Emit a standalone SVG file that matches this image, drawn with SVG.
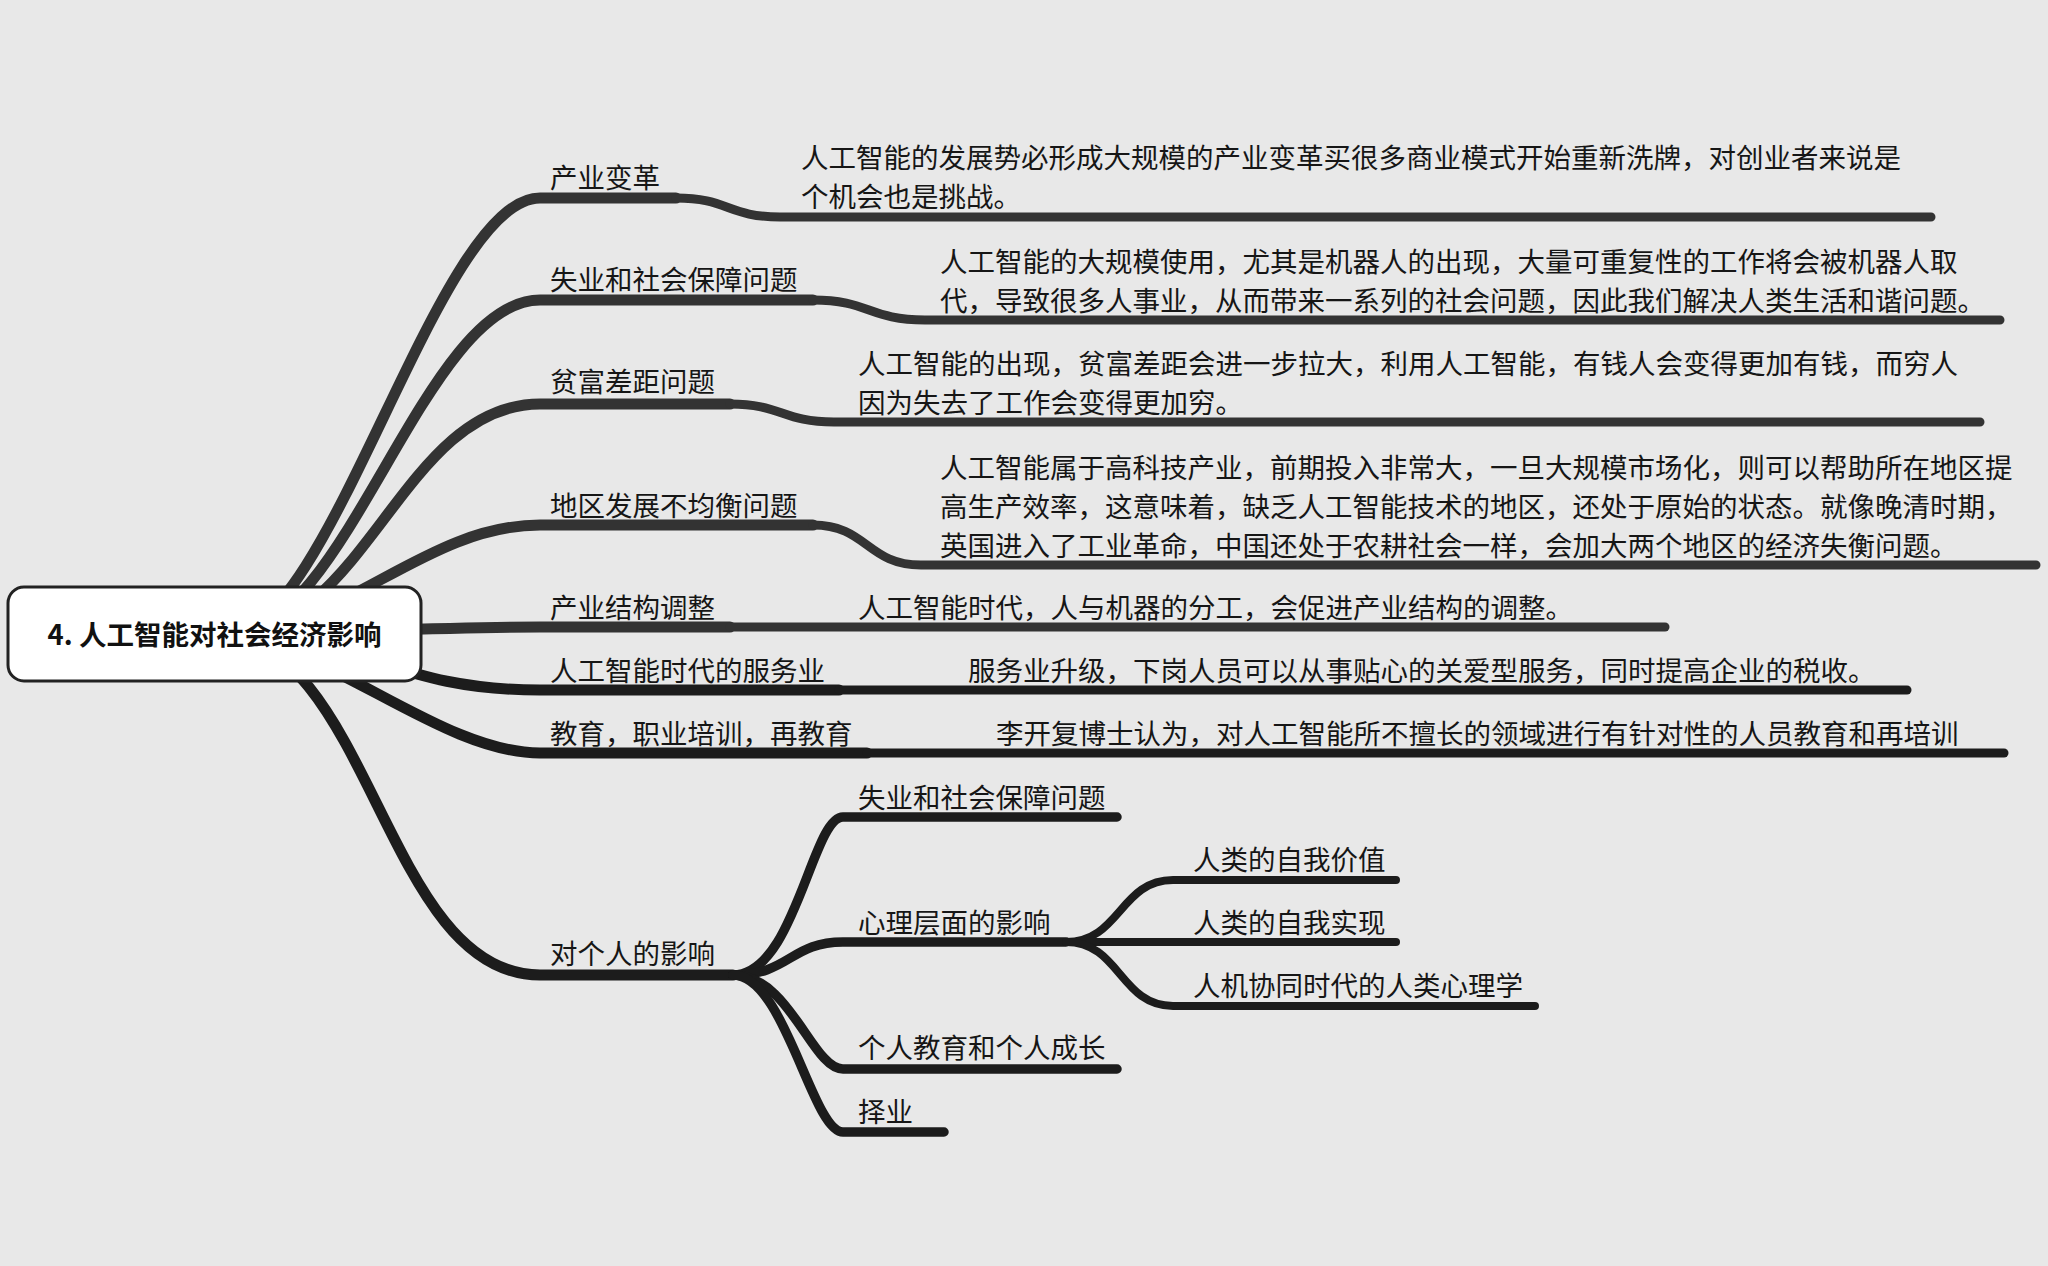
<svg xmlns="http://www.w3.org/2000/svg" width="2048" height="1266" viewBox="0 0 2048 1266">
<style>
.t{font-family:"Noto Sans CJK SC","Noto Sans",sans-serif;font-size:27.5px;fill:#161616}
.root{font-family:"Noto Sans CJK SC","Noto Sans",sans-serif;font-size:27.5px;font-weight:600;fill:#111}
.l1{fill:none;stroke:#333;stroke-width:11;stroke-linecap:round}
.d1{fill:none;stroke:#333;stroke-width:9;stroke-linecap:round}
.l1b{fill:none;stroke:#1c1c1c;stroke-width:11;stroke-linecap:round}
.d1b{fill:none;stroke:#1c1c1c;stroke-width:9;stroke-linecap:round}
.l2{fill:none;stroke:#1c1c1c;stroke-width:9.5;stroke-linecap:round}
.l3{fill:none;stroke:#1c1c1c;stroke-width:8;stroke-linecap:round}
</style>
<rect width="2048" height="1266" fill="#e8e8e8"/>
<g id="connectors">
<path class="l1" d="M228,634 C331,634 437,198 540,198 H676"/>
<path class="d1" d="M676,198 C728,198 728,217 780,217 H1931"/>
<path class="l1" d="M230,634 C346,634 424,300 540,300 H813"/>
<path class="d1" d="M813,300 C869,300 869,320 925,320 H2000"/>
<path class="l1" d="M228,634 C366,634 402,404 540,404 H730"/>
<path class="d1" d="M730,404 C782,404 782,422 834,422 H1980"/>
<path class="l1" d="M222,634 C339,634 423,525 540,525 H813"/>
<path class="d1" d="M813,525 C867,525 867,565 921,565 H2036"/>
<path class="l1" d="M214,634 C334,634 420,627 540,627 H730"/>
<path class="d1" d="M730,627 H1665"/>
<path class="l1b" d="M214,634 C364,634 390,690 540,690 H839"/>
<path class="d1b" d="M839,690 H1907"/>
<path class="l1b" d="M214,634 C317,634 437,753 540,753 H867"/>
<path class="d1b" d="M867,753 H2004"/>
<path class="l1b" d="M214,634 C371,634 383,975 540,975 H733"/>
<path class="l2" d="M733,975 C795,975 812,817 843,817 H1117"/>
<path class="l2" d="M733,975 C790,975 790,942 843,942 H1066"/>
<path class="l2" d="M733,975 C790,975 812,1069 843,1069 H1117"/>
<path class="l2" d="M733,975 C785,975 812,1132 843,1132 H944"/>
<path class="l3" d="M1066,942 C1120,942 1120,880 1173,880 H1396"/>
<path class="l3" d="M1066,942 H1396"/>
<path class="l3" d="M1066,942 C1120,942 1120,1006 1173,1006 H1535"/>
</g>
<g id="root">
<rect x="8" y="587" width="413" height="94" rx="16" fill="#fff" stroke="#222" stroke-width="3"/>
<text class="root" x="214.5" y="645" text-anchor="middle">4. 人工智能对社会经济影响</text>
</g>
<g id="n1">
<text class="t" x="550" y="188">产业变革</text>
<text class="t" x="801" y="168">人工智能的发展势必形成大规模的产业变革买很多商业模式开始重新洗牌，对创业者来说是</text>
<text class="t" x="801" y="207">个机会也是挑战。</text>
</g>
<g id="n2">
<text class="t" x="550" y="289.5">失业和社会保障问题</text>
<text class="t" x="940" y="272">人工智能的大规模使用，尤其是机器人的出现，大量可重复性的工作将会被机器人取</text>
<text class="t" x="940" y="311">代，导致很多人事业，从而带来一系列的社会问题，因此我们解决人类生活和谐问题。</text>
</g>
<g id="n3">
<text class="t" x="550" y="392">贫富差距问题</text>
<text class="t" x="858" y="374">人工智能的出现，贫富差距会进一步拉大，利用人工智能，有钱人会变得更加有钱，而穷人</text>
<text class="t" x="858" y="412.5">因为失去了工作会变得更加穷。</text>
</g>
<g id="n4">
<text class="t" x="550" y="515.5">地区发展不均衡问题</text>
<text class="t" x="940" y="478">人工智能属于高科技产业，前期投入非常大，一旦大规模市场化，则可以帮助所在地区提</text>
<text class="t" x="940" y="517">高生产效率，这意味着，缺乏人工智能技术的地区，还处于原始的状态。就像晚清时期，</text>
<text class="t" x="940" y="556">英国进入了工业革命，中国还处于农耕社会一样，会加大两个地区的经济失衡问题。</text>
</g>
<g id="n5">
<text class="t" x="550" y="618">产业结构调整</text>
<text class="t" x="858" y="618">人工智能时代，人与机器的分工，会促进产业结构的调整。</text>
</g>
<g id="n6">
<text class="t" x="550" y="681">人工智能时代的服务业</text>
<text class="t" x="968" y="681">服务业升级，下岗人员可以从事贴心的关爱型服务，同时提高企业的税收。</text>
</g>
<g id="n7">
<text class="t" x="550" y="744">教育，职业培训，再教育</text>
<text class="t" x="996" y="744">李开复博士认为，对人工智能所不擅长的领域进行有针对性的人员教育和再培训</text>
</g>
<g id="n8">
<text class="t" x="550" y="964">对个人的影响</text>
</g>
<g id="n8a"><text class="t" x="858" y="808">失业和社会保障问题</text></g>
<g id="n8b"><text class="t" x="858" y="933">心理层面的影响</text></g>
<g id="n8b1"><text class="t" x="1193" y="870">人类的自我价值</text></g>
<g id="n8b2"><text class="t" x="1193" y="933">人类的自我实现</text></g>
<g id="n8b3"><text class="t" x="1193" y="995.5">人机协同时代的人类心理学</text></g>
<g id="n8c"><text class="t" x="858" y="1058">个人教育和个人成长</text></g>
<g id="n8d"><text class="t" x="858" y="1121.5">择业</text></g>
</svg>
